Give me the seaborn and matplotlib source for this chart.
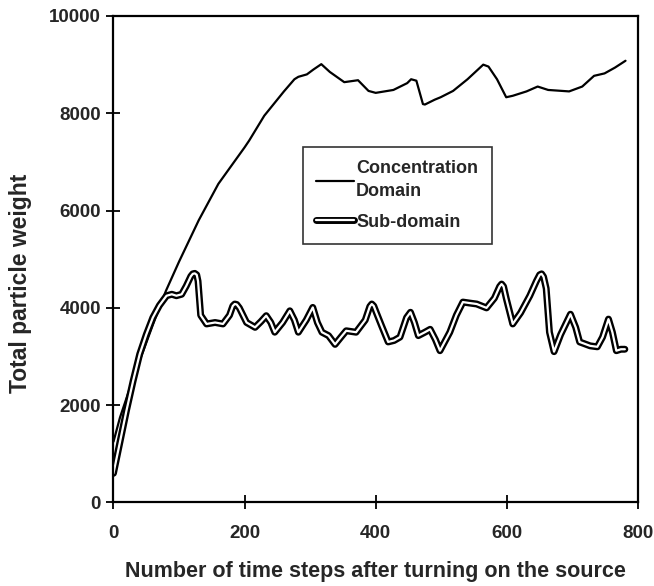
import matplotlib
matplotlib.use("Agg")
import matplotlib.pyplot as plt
import matplotlib.patheffects as pe
import seaborn as sns
import pandas as pd

# Concentration domain
conc_x = [0, 10, 20, 30, 45, 60, 80, 100, 130, 160, 200, 207, 230, 260, 276, 282, 295, 305, 317,
          330, 352, 373, 389, 400, 427, 448, 454, 462, 472, 475, 490, 499, 518, 540, 564, 572,
          585, 599, 609, 630, 647, 663, 695, 715, 733, 749, 765, 781]
conc_y = [1250, 1750, 2150, 2550, 3100, 3650, 4350, 4950, 5800, 6550, 7300, 7440, 7950, 8450, 8700, 8750, 8800, 8900, 9010,
          8850, 8640, 8680, 8460, 8420, 8480, 8620, 8700, 8670, 8190, 8180, 8280, 8330, 8460, 8700, 9000, 8960,
          8700, 8330, 8360, 8450, 8550, 8480, 8450, 8550, 8770, 8820, 8940, 9080]

# Sub-domain
sub_x = [0, 10, 20, 30, 40, 50, 60, 70, 81, 89, 96, 104, 111, 118, 121, 124, 127, 129, 133, 142, 155, 167,
         177, 182, 185, 188, 192, 203, 216, 225, 233, 240, 246, 258, 269, 276, 282, 294, 304, 311, 318, 328,
         338, 347, 355, 370, 384, 391, 394, 397, 401, 409, 419, 428, 437, 447, 453, 459, 465, 475, 483, 491,
         498, 513, 523, 533, 543, 554, 569, 581, 589, 592, 595, 599, 609, 621, 635, 645, 650, 653, 656, 660, 665, 672,
         682, 697, 705, 711, 727, 738, 746, 755, 761, 767, 774, 780]
sub_y = [600, 1250, 1900, 2500, 3050, 3450, 3800, 4050, 4250, 4280, 4250, 4280, 4450, 4650, 4700, 4710, 4680, 4550, 3850, 3670, 3700, 3670,
         3850, 4040, 4080, 4070, 4000, 3700, 3600, 3720, 3840, 3700, 3500, 3700, 3940, 3750, 3500, 3750, 4010, 3700, 3500, 3430,
         3250, 3400, 3530, 3500, 3750, 4030, 4080, 4040, 3900, 3630, 3300, 3330, 3400, 3800, 3910, 3700, 3430, 3500, 3560, 3350,
         3120, 3500, 3850, 4120, 4100, 4080, 4000, 4200, 4440, 4490, 4440, 4200, 3670, 3900, 4250, 4550, 4680, 4700, 4640, 4400, 3500, 3100,
         3450, 3870, 3600, 3300, 3220, 3200, 3400, 3770, 3500, 3120, 3150, 3150]

x_ticks = [0, 200, 400, 600, 800]
y_ticks = [0, 2000, 4000, 6000, 8000, 10000]

sns.set_style("ticks")
plt.rcParams["font.family"] = ["Liberation Sans", "DejaVu Sans"]

fig = plt.figure(figsize=(6.54, 5.86), dpi=100)
ax = fig.add_axes([0.1735, 0.1425, 0.8020, 0.8302])

conc_df = pd.DataFrame({"x": conc_x, "y": conc_y})
sub_df = pd.DataFrame({"x": sub_x, "y": sub_y})

sns.lineplot(data=conc_df, x="x", y="y", ax=ax, color="black", lw=1.6,
             label="Concentration\nDomain", sort=False, solid_joinstyle="round")
sns.lineplot(data=sub_df, x="x", y="y", ax=ax, color="white", lw=1.6,
             label="Sub-domain", sort=False, solid_joinstyle="round",
             path_effects=[pe.Stroke(linewidth=5.0, foreground="black", joinstyle="round"), pe.Normal()])

ax.set_xlim(0, 800)
ax.set_ylim(0, 10000)
ax.set_xticks(x_ticks)
ax.set_yticks(y_ticks)
ax.set_xticklabels([str(v) for v in x_ticks], fontsize=13.5, fontweight="bold")
ax.set_yticklabels([str(v) for v in y_ticks], fontsize=13.5, fontweight="bold")
ax.tick_params(axis="both", direction="inout", length=10, width=1.3, color="black")
ax.tick_params(axis="x", pad=11)
ax.tick_params(axis="y", pad=4)

for s in ax.spines.values():
    s.set_visible(True)
    s.set_linewidth(1.6)
    s.set_color("black")

ax.set_xlabel("Number of time steps after turning on the source", fontsize=15.5, fontweight="bold")
ax.xaxis.set_label_coords(0.5, -0.120)
ax.set_ylabel("Total particle weight", fontsize=16.5, fontweight="bold")
ax.yaxis.set_label_coords(-0.156, 0.45)

leg = ax.legend(loc="upper left", bbox_to_anchor=(0.361, 0.731), frameon=True, fancybox=False,
                edgecolor="black", prop={"size": 13, "weight": "bold"}, handlelength=2.1,
                handletextpad=0.1, borderpad=0.75, labelspacing=0.75, borderaxespad=0)
for t in leg.get_texts():
    t.set_linespacing(1.45)
leg.get_frame().set_linewidth(1.2)

fig.savefig("out.png", dpi=100)
